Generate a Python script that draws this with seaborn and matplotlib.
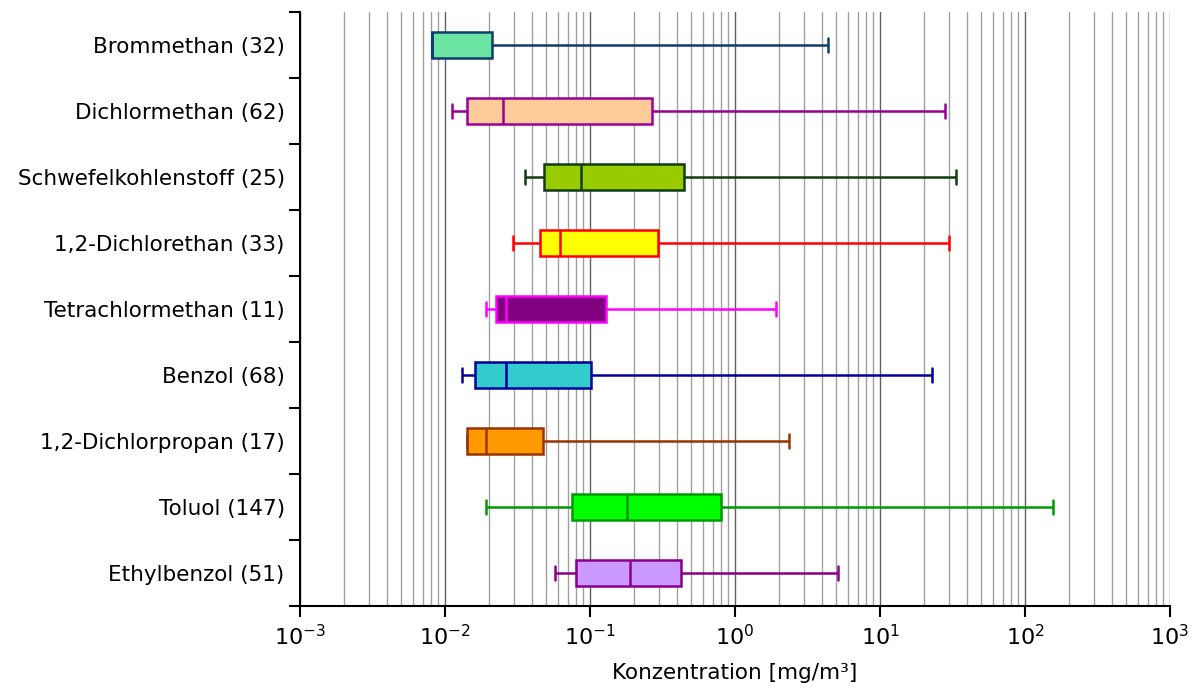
import numpy as np
import pandas as pd
import matplotlib
matplotlib.use("Agg")
import matplotlib.pyplot as plt
import seaborn as sns
from matplotlib.ticker import LogLocator, NullFormatter, FixedLocator

# Stoffe und Kennwerte (mg/m³), von oben nach unten
names = ['Brommethan (32)', 'Dichlormethan (62)', 'Schwefelkohlenstoff (25)',
         '1,2-Dichlorethan (33)', 'Tetrachlormethan (11)', 'Benzol (68)',
         '1,2-Dichlorpropan (17)', 'Toluol (147)', 'Ethylbenzol (51)']
mins = [0.0081, 0.0111, 0.0355, 0.0293, 0.0192, 0.0131, 0.0141, 0.0192, 0.0577]
q1s = [0.0081, 0.0141, 0.0484, 0.0454, 0.0226, 0.0162, 0.0141, 0.0755, 0.0797]
medians = [0.0081, 0.0251, 0.0863, 0.0624, 0.0264, 0.0262, 0.0192, 0.181, 0.190]
q3s = [0.0212, 0.267, 0.443, 0.293, 0.128, 0.1016, 0.0474, 0.80, 0.422]
maxs = [4.4, 28.0, 33.2, 29.8, 1.93, 22.9, 2.36, 155.7, 5.16]

face_colors = ['#6ce4a4', '#ffcc99', '#99cc00', '#ffff00', '#800080',
               '#33cccc', '#ff9900', '#00ff00', '#cc99ff']
edge_colors = ['#0f3d6e', '#990099', '#0f3d0f', '#ff0000', '#ff00ff',
               '#000099', '#993300', '#009900', '#880088']

# five values per compound -> quartiles come out exactly
rows = []
for i, n in enumerate(names):
    for v in (mins[i], q1s[i], medians[i], q3s[i], maxs[i]):
        rows.append({'stoff': n, 'wert': v})
df = pd.DataFrame(rows)

sns.set_style("white")
plt.rcParams['font.family'] = ['DejaVu Sans']
plt.rcParams['text.color'] = 'black'
plt.rcParams['xtick.color'] = 'black'
plt.rcParams['ytick.color'] = 'black'
plt.rcParams['axes.labelcolor'] = 'black'

fig = plt.figure(figsize=(11.99, 6.89), dpi=100)
ax = fig.add_axes([0.2502, 0.1205, 0.9758 - 0.2502, 0.9826 - 0.1205])

for i, n in enumerate(names):
    sns.boxplot(data=df[df['stoff'] == n], x='wert', y='stoff', order=names,
                color=face_colors[i], linecolor=edge_colors[i], saturation=1,
                width=0.4, whis=(0, 100), log_scale=True, showfliers=False,
                linewidth=1.8, ax=ax)

ax.set_xlim(1e-3, 1e3)
ax.set_ylim(8.5, -0.5)
ax.xaxis.set_major_locator(LogLocator(base=10, numticks=10))
ax.xaxis.set_minor_locator(LogLocator(base=10, subs=np.arange(2, 10), numticks=100))
ax.xaxis.set_minor_formatter(NullFormatter())
ax.grid(which='major', axis='x', color='#606060', lw=1.0)
ax.grid(which='minor', axis='x', color='#a0a0a0', lw=1.0)
ax.set_axisbelow(True)

ax.yaxis.set_minor_locator(FixedLocator(np.arange(-0.5, 9, 1)))
ax.tick_params(axis='y', which='major', length=0, labelsize=15.5, pad=11)
ax.tick_params(axis='y', which='minor', length=8, width=1.5, direction='out', left=True)
ax.tick_params(axis='x', which='major', length=8, width=1.5, direction='out',
               bottom=True, labelsize=16, pad=5)
ax.tick_params(axis='x', which='minor', length=0)

for s in ['top', 'right']:
    ax.spines[s].set_visible(False)
for s in ['left', 'bottom']:
    ax.spines[s].set_color('black')
    ax.spines[s].set_linewidth(1.5)

ax.set_ylabel('')
ax.set_xlabel('Konzentration [mg/m³]', fontsize=15.5, labelpad=10)

fig.savefig('out.png', dpi=100)
